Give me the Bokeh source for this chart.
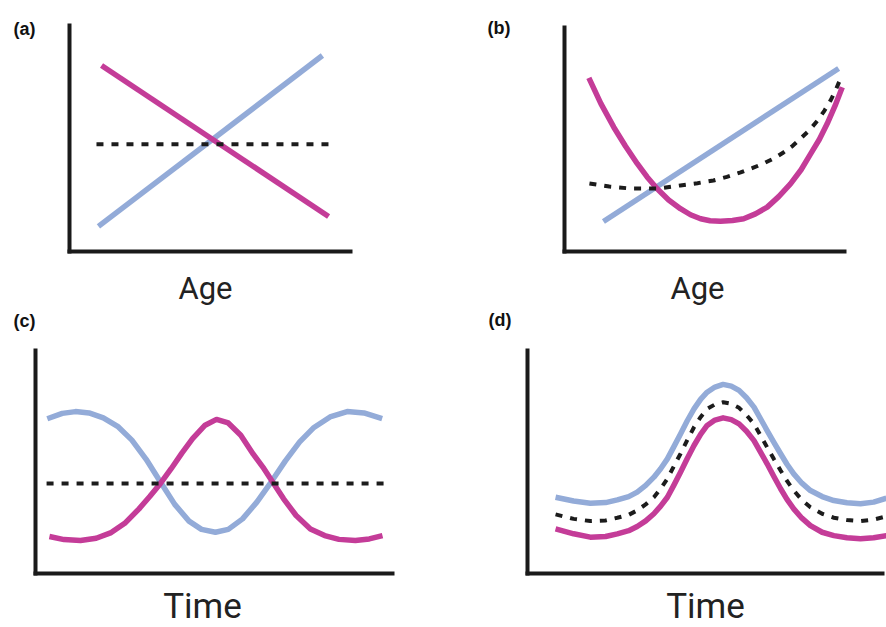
from bokeh.plotting import figure
from bokeh.layouts import column, row
from bokeh.models import Range1d, FixedTicker, Label, LinearAxis
from bokeh.embed import file_html
from bokeh.resources import INLINE

PINK = "#C43C98"
BLUE = "#93ABD8"
DASHC = "#1C1C1C"
AXIS = "#1A1A1A"

panel_tags = ["(a)", "(b)", "(c)", "(d)"]
axis_titles = ["Age", "Age", "Time", "Time"]

# ---- panel (a): linear trends ----
a_pink_x = [1.14, 9.22]
a_pink_y = [8.23, 1.55]
a_blue_x = [1.03, 9.00]
a_blue_y = [1.11, 8.67]
a_dash_x = [0.96, 9.29]
a_dash_y = [4.75, 4.75]

# ---- panel (b): curved trends ----
b_pink_x = [0.87, 1.30, 1.76, 2.18, 2.60, 2.95, 3.31, 3.72, 4.14, 4.50, 4.86, 5.20, 5.57,
            6.00, 6.40, 6.82, 7.24, 7.65, 8.07, 8.45, 8.79, 9.10, 9.38, 9.66, 9.92]
b_pink_y = [7.75, 6.60, 5.55, 4.70, 3.92, 3.33, 2.80, 2.30, 1.91, 1.64, 1.46, 1.37, 1.35,
            1.38, 1.46, 1.68, 1.98, 2.45, 3.02, 3.65, 4.36, 5.00, 5.70, 6.50, 7.33]
b_blue_x = [1.39, 9.79]
b_blue_y = [1.34, 8.17]
b_dash_x = [0.89, 1.60, 2.36, 3.32, 4.14, 4.75, 5.32, 5.80, 6.29, 6.70, 7.11, 7.50, 7.82,
            8.15, 8.43, 8.75, 9.04, 9.28, 9.50, 9.70, 9.89]
b_dash_y = [3.04, 2.90, 2.81, 2.81, 2.95, 3.05, 3.17, 3.33, 3.53, 3.72, 3.93, 4.17, 4.42,
            4.72, 5.04, 5.42, 5.85, 6.28, 6.74, 7.25, 7.81]

# ---- panel (c): opposite oscillations ----
c_blue_x = [0.33, 0.75, 1.12, 1.50, 1.90, 2.30, 2.70, 3.10, 3.50, 3.90, 4.30, 4.65, 5.04,
            5.40, 5.80, 6.20, 6.60, 7.00, 7.40, 7.80, 8.25, 8.73, 9.20, 9.71]
c_blue_y = [6.94, 7.18, 7.26, 7.20, 6.98, 6.60, 5.98, 5.12, 4.10, 3.10, 2.35, 1.98, 1.85,
            1.98, 2.45, 3.20, 4.10, 5.05, 5.90, 6.55, 7.02, 7.26, 7.20, 6.94]
c_pink_x = [0.39, 0.80, 1.26, 1.70, 2.10, 2.50, 2.90, 3.20, 3.50, 3.80, 4.10, 4.40, 4.75,
            5.07, 5.40, 5.75, 6.10, 6.40, 6.67, 6.95, 7.30, 7.70, 8.10, 8.50, 8.96, 9.35, 9.72]
c_pink_y = [1.66, 1.52, 1.48, 1.58, 1.82, 2.25, 2.90, 3.45, 4.04, 4.70, 5.40, 6.05, 6.65,
            6.91, 6.75, 6.20, 5.35, 4.70, 4.04, 3.35, 2.60, 2.00, 1.70, 1.53, 1.48, 1.55, 1.70]
c_dash_x = [0.31, 9.80]
c_dash_y = [4.04, 4.04]

# ---- panel (d): parallel oscillations ----
d_x = [0.79, 1.30, 1.77, 2.20, 2.53, 2.85, 3.09, 3.33, 3.56, 3.75, 3.94, 4.12, 4.31,
       4.50, 4.69, 4.88, 5.06, 5.28, 5.51, 5.74, 5.96, 6.17, 6.38, 6.56, 6.75, 6.94,
       7.13, 7.31, 7.50, 7.73, 7.97, 8.30, 8.63, 9.00, 9.38, 9.75, 10.11]
d_blue_y = [3.42, 3.25, 3.15, 3.18, 3.30, 3.45, 3.65, 3.95, 4.32, 4.70, 5.14, 5.68, 6.26,
            6.85, 7.38, 7.82, 8.13, 8.36, 8.48, 8.40, 8.21, 7.88, 7.46, 6.95, 6.41, 5.88,
            5.37, 4.90, 4.47, 4.05, 3.72, 3.45, 3.27, 3.17, 3.13, 3.20, 3.38]
d_dash_y = [2.65, 2.45, 2.35, 2.38, 2.50, 2.63, 2.83, 3.10, 3.42, 3.80, 4.25, 4.80, 5.37,
            5.98, 6.56, 7.02, 7.38, 7.58, 7.68, 7.61, 7.43, 7.10, 6.71, 6.20, 5.66, 5.13,
            4.62, 4.15, 3.72, 3.30, 2.97, 2.68, 2.50, 2.40, 2.35, 2.42, 2.56]
d_pink_y = [2.00, 1.78, 1.63, 1.66, 1.78, 1.92, 2.11, 2.36, 2.68, 3.02, 3.42, 3.95, 4.54,
            5.16, 5.74, 6.25, 6.64, 6.88, 6.98, 6.90, 6.71, 6.38, 5.96, 5.45, 4.92, 4.35,
            3.80, 3.32, 2.90, 2.48, 2.15, 1.85, 1.70, 1.60, 1.56, 1.60, 1.70]


def make_panel(width, height, corner_x, corner_y, axis_x_end, axis_y_top):
    """Figure whose frame fills it; the L-shaped axes are placed at data 0 and span 0..10."""
    sx = (axis_x_end - corner_x) / 10.0
    sy = (corner_y - axis_y_top) / 10.0
    p = figure(width=width, height=height,
               x_range=Range1d(-corner_x / sx, (width - corner_x) / sx),
               y_range=Range1d(-(height - corner_y) / sy, corner_y / sy),
               x_axis_location=None, y_axis_location=None,
               output_backend="svg", toolbar_location=None, min_border=0)
    p.outline_line_color = None
    p.background_fill_color = "white"
    p.border_fill_color = "white"
    p.grid.visible = False
    for side in ("below", "left"):
        ax = LinearAxis(fixed_location=0, bounds=(0, 10), ticker=FixedTicker(ticks=[]))
        ax.major_tick_line_color = None
        ax.minor_tick_line_color = None
        ax.major_label_text_font_size = "0px"
        ax.major_tick_out = 0
        ax.major_tick_in = 0
        ax.major_label_standoff = 0
        ax.axis_line_width = 4
        ax.axis_line_color = AXIS
        ax.axis_line_cap = "square"
        p.add_layout(ax, side)
    return p


def add_lines(p, series):
    for xs, ys, color, dashed in series:
        if dashed:
            p.line(xs, ys, line_width=4, line_color=color, line_dash="7 8")
        else:
            p.line(xs, ys, line_width=5.5, line_color=color, line_join="round")


def add_texts(p, height, tag, tag_x, tag_mid, title, title_cx, title_mid, title_size):
    p.add_layout(Label(x=tag_x, y=height - tag_mid, x_units="screen", y_units="screen",
                       text=tag, text_font="Liberation Sans", text_font_style="bold",
                       text_font_size="18px", text_color="#111111",
                       text_align="left", text_baseline="middle"))
    p.add_layout(Label(x=title_cx, y=height - title_mid, x_units="screen", y_units="screen",
                       text=title, text_font="Roboto", text_font_size=title_size,
                       text_color="#222222", text_align="center",
                       text_baseline="middle"))


pa = make_panel(470, 309, 69, 251, 350, 25)
add_lines(pa, [(a_blue_x, a_blue_y, BLUE, False), (a_pink_x, a_pink_y, PINK, False),
               (a_dash_x, a_dash_y, DASHC, True)])
add_texts(pa, 309, panel_tags[0], 13, 28.5, axis_titles[0], 205, 287.5, "31px")

pb = make_panel(416, 309, 94, 251, 374, 27)
add_lines(pb, [(b_blue_x, b_blue_y, BLUE, False), (b_pink_x, b_pink_y, PINK, False),
               (b_dash_x, b_dash_y, DASHC, True)])
add_texts(pb, 309, panel_tags[1], 17, 27, axis_titles[1], 227, 288, "31px")

pc = make_panel(460, 318, 35, 264, 392, 41)
add_lines(pc, [(c_blue_x, c_blue_y, BLUE, False), (c_pink_x, c_pink_y, PINK, False),
               (c_dash_x, c_dash_y, DASHC, True)])
add_texts(pc, 318, panel_tags[2], 13, 11, axis_titles[2], 202, 297, "35px")

pd = make_panel(426, 318, 67, 264, 422, 41)
add_lines(pd, [(d_x, d_blue_y, BLUE, False), (d_x, d_pink_y, PINK, False),
               (d_x, d_dash_y, DASHC, True)])
add_texts(pd, 318, panel_tags[3], 28, 10.5, axis_titles[3], 245, 297, "35px")

layout = column(row(pa, pb), row(pc, pd))

with open("out.html", "w") as f:
    f.write(file_html(layout, INLINE))
